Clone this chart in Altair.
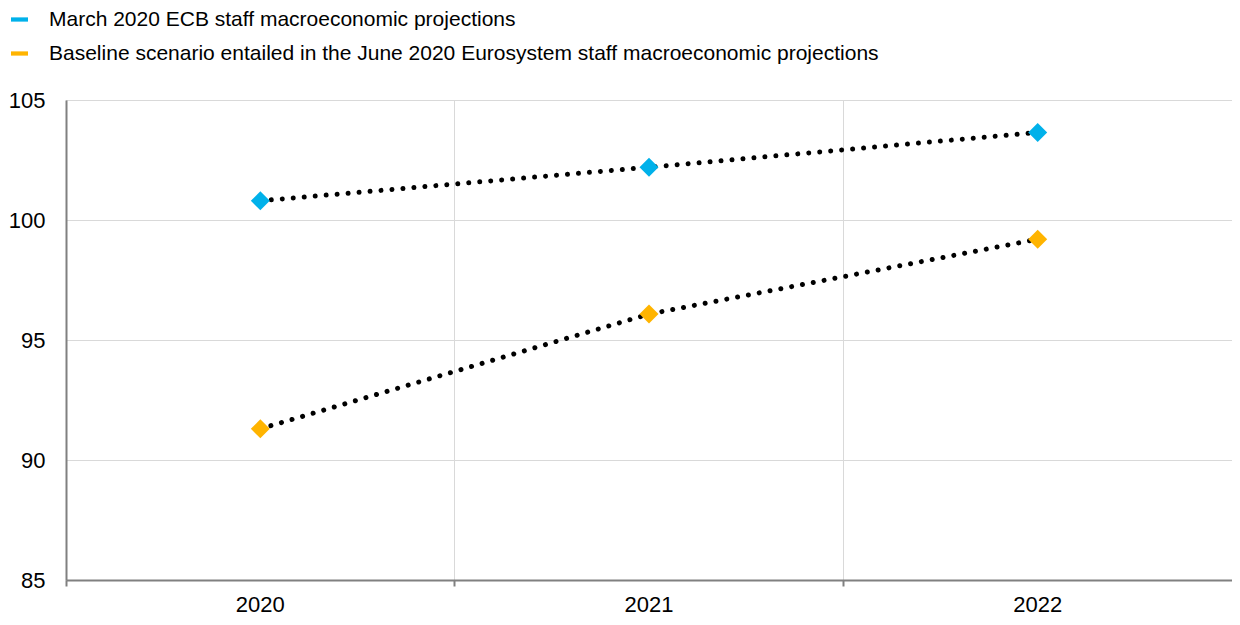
import altair as alt
import pandas as pd

years = ["2020", "2021", "2022"]
march = [100.8, 102.2, 103.65]
june = [91.3, 96.08, 99.2]
series_names = [
    "March 2020 ECB staff macroeconomic projections",
    "Baseline scenario entailed in the June 2020 Eurosystem staff macroeconomic projections",
]
colors = ["#00B1EA", "#FFB400"]
y_ticks = [85, 90, 95, 100, 105]

rows = []
for name, vals in zip(series_names, [march, june]):
    for yr, v in zip(years, vals):
        rows.append({"year": yr, "value": v, "series": name})
df = pd.DataFrame(rows)

FONT = "Liberation Sans"

x_enc = alt.X(
    "year:O",
    scale=alt.Scale(type="band", paddingInner=0, paddingOuter=0),
    axis=alt.Axis(
        title=None, bandPosition=0, grid=True, gridColor="#d9d9d9", gridWidth=1,
        ticks=True, tickSize=6, tickColor="#808080", tickWidth=2,
        domainColor="#808080", domainWidth=2, labelAngle=0, labelFontSize=22,
        labelPadding=8, labelColor="black", labelFont=FONT,
    ),
)
y_enc = alt.Y(
    "value:Q",
    scale=alt.Scale(domain=[85, 105], nice=False, zero=False),
    axis=alt.Axis(
        values=y_ticks, title=None, grid=True, gridColor="#d9d9d9", gridWidth=1,
        ticks=False, domainColor="#808080", domainWidth=2, labelFontSize=22,
        labelPadding=21, labelColor="black", labelFont=FONT,
    ),
)

lines = alt.Chart(df).mark_line(
    color="black", strokeDash=[0.01, 11], strokeCap="round", strokeWidth=5
).encode(x=x_enc, y=y_enc, detail="series:N")

points = alt.Chart(df).mark_point(
    shape="diamond", filled=True, size=361, opacity=1
).encode(
    x=x_enc,
    y=y_enc,
    color=alt.Color(
        "series:N",
        scale=alt.Scale(domain=series_names, range=colors),
        legend=alt.Legend(
            title=None, orient="none", legendX=-57, legendY=-91,
            direction="vertical", symbolType="M-1,-0.25H1V0.25H-1Z",
            symbolSize=289, symbolStrokeWidth=0, labelFontSize=21,
            labelFont=FONT, labelColor="black", labelOffset=19,
            labelLimit=2000, rowPadding=12, padding=0,
        ),
    ),
)

chart = (
    alt.layer(lines, points)
    .properties(
        width=1166, height=480,
        autosize=alt.AutoSizeParams(type="none"),
        padding={"left": 58, "top": 92, "right": 0, "bottom": 37},
    )
    .configure_view(stroke="#d9d9d9")
)

chart.save("out.html", embed_options={"renderer": "svg", "actions": False})
